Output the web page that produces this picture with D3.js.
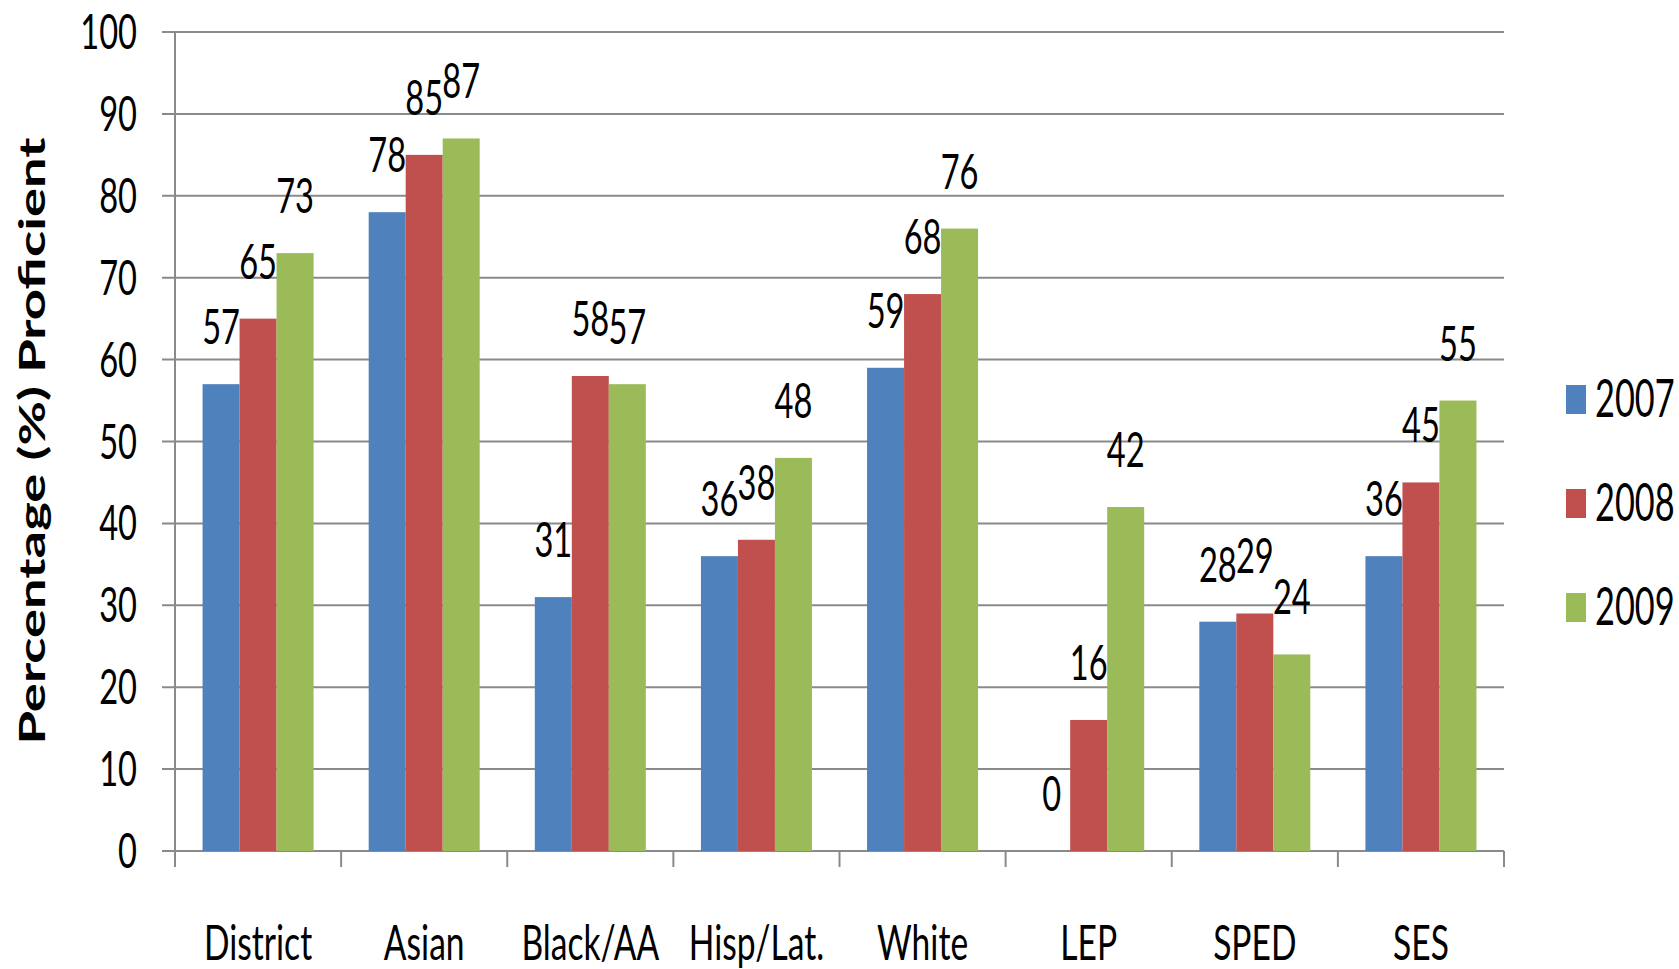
<!DOCTYPE html>
<html>
<head>
<meta charset="utf-8">
<script src="https://cdn.jsdelivr.net/npm/d3@7"></script>
<style>
  html, body { margin: 0; padding: 0; background: #fff; }
  svg { display: block; }
  text { font-family: Lato, "Open Sans", sans-serif; fill: #000; }
</style>
</head>
<body>
<svg id="chart" width="1679" height="969"></svg>
<script>
// Percentage proficient by student group, 2007–2009
const categories = ["District", "Asian", "Black/AA", "Hisp/Lat.", "White", "LEP", "SPED", "SES"];
const years = ["2007", "2008", "2009"];
const values2007 = [57, 78, 31, 36, 59, 0, 28, 36];
const values2008 = [65, 85, 58, 38, 68, 16, 29, 45];
const values2009 = [73, 87, 57, 48, 76, 42, 24, 55];
const yTicks = [0, 10, 20, 30, 40, 50, 60, 70, 80, 90, 100];
const colors = ["#4F81BD", "#C0504D", "#9BBB59"];

const series = [values2007, values2008, values2009];

const svg = d3.select("#chart");
const plotLeft = 175, plotRight = 1504, plotTop = 32, plotBottom = 851;
const sx = 0.68; // condensed lettering

const x = d3.scaleBand().domain(categories).range([plotLeft, plotRight]).paddingInner(0).paddingOuter(0);
const xInner = d3.scaleBand().domain(years).range([0, x.bandwidth()]).paddingInner(0).paddingOuter(0.745);
const y = d3.scaleLinear().domain([0, 100]).range([plotBottom, plotTop]);

const gridColor = "#8a8a8a";

// horizontal gridlines with left tick marks
svg.append("g").selectAll("line").data(yTicks).join("line")
  .attr("x1", plotLeft - 13).attr("x2", plotRight)
  .attr("y1", d => y(d)).attr("y2", d => y(d))
  .attr("stroke", gridColor).attr("stroke-width", 2);

// y axis line
svg.append("line").attr("x1", plotLeft).attr("x2", plotLeft).attr("y1", plotTop).attr("y2", plotBottom + 14)
  .attr("stroke", gridColor).attr("stroke-width", 2);

// category boundary ticks on x axis
const bounds = categories.map(c => x(c)).concat([plotRight]);
svg.append("g").selectAll("line").data(bounds).join("line")
  .attr("x1", d => d).attr("x2", d => d)
  .attr("y1", plotBottom).attr("y2", plotBottom + 16)
  .attr("stroke", gridColor).attr("stroke-width", 2);

// y tick labels
svg.append("g").selectAll("text").data(yTicks).join("text")
  .attr("transform", d => `translate(${plotLeft - 38},${y(d) + 17}) scale(${sx},1)`)
  .attr("text-anchor", "end")
  .attr("font-size", 48)
  .text(d => d);

// bars
const groups = svg.append("g").selectAll("g").data(categories).join("g")
  .attr("transform", c => `translate(${x(c)},0)`);

groups.selectAll("rect")
  .data((c, i) => years.map((yr, j) => ({ yr, v: series[j][i], j })))
  .join("rect")
  .attr("x", d => xInner(d.yr))
  .attr("width", xInner.bandwidth())
  .attr("y", d => y(d.v))
  .attr("height", d => plotBottom - y(d.v))
  .attr("fill", d => colors[d.j]);

// value labels above bars
groups.selectAll("text")
  .data((c, i) => years.map((yr, j) => ({ yr, v: series[j][i], j })))
  .join("text")
  .attr("transform", d => `translate(${xInner(d.yr) + xInner.bandwidth() / 2},${y(d.v) - 40}) scale(${sx},1)`)
  .attr("text-anchor", "middle")
  .attr("font-size", 48)
  .text(d => d.v);

// category labels
svg.append("g").selectAll("text").data(categories).join("text")
  .attr("transform", c => `translate(${x(c) + x.bandwidth() / 2},${960}) scale(0.7,1)`)
  .attr("text-anchor", "middle")
  .attr("font-size", 48)
  .text(c => c);

// y axis title
svg.append("text")
  .attr("transform", `translate(45,441) rotate(-90)`)
  .attr("text-anchor", "middle")
  .attr("font-family", "'DejaVu Sans', sans-serif")
  .attr("font-weight", "bold")
  .attr("font-size", 36)
  .attr("textLength", 607)
  .attr("lengthAdjust", "spacingAndGlyphs")
  .text("Percentage (%) Proficient");

// legend
const legend = svg.append("g").selectAll("g").data(years).join("g")
  .attr("transform", (d, i) => `translate(1566,${385 + i * 104})`);
legend.append("rect").attr("width", 20).attr("height", 29).attr("fill", (d, i) => colors[i]);
legend.append("text")
  .attr("transform", `translate(29,32) scale(0.66,1)`)
  .attr("font-size", 52)
  .text(d => d);
</script>
</body>
</html>
